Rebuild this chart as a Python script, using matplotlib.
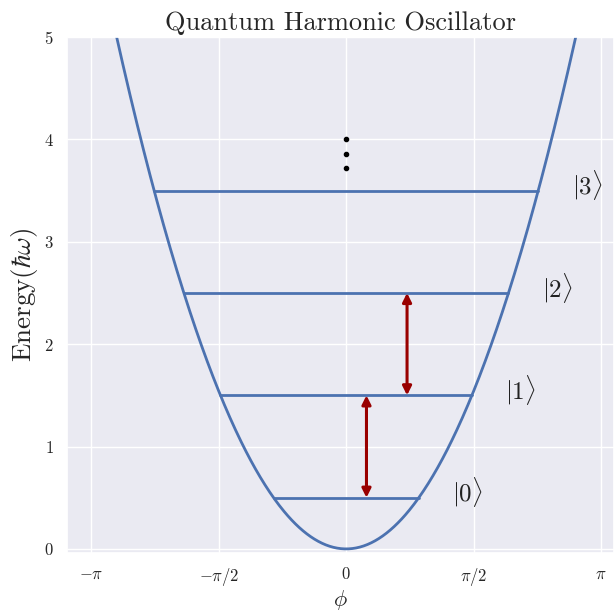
import numpy as np
import matplotlib
matplotlib.use("Agg")
import matplotlib.pyplot as plt
import seaborn as sns

# ---- data ----
k_curve = 0.625                      # E = k * phi^2
levels = [0.5, 1.5, 2.5, 3.5]
level_labels = [r"$|0\rangle$", r"$|1\rangle$", r"$|2\rangle$", r"$|3\rangle$"]
label_x = [1.49, 2.15, 2.60, 2.97]
label_y = [0.55, 1.55, 2.55, 3.55]
arrow_x = [0.25, 0.75]
arrow_from = [0.5, 1.5]
arrow_to = [1.5, 2.5]
dots_x = [0, 0, 0]
dots_y = [4.0, 3.86, 3.72]
xtick_vals = [-np.pi, -np.pi / 2, 0, np.pi / 2, np.pi]
xtick_labels = [r"$-\pi$", r"$-\pi/2$", r"$0$", r"$\pi/2$", r"$\pi$"]
ytick_vals = [0, 1, 2, 3, 4, 5]

sns.set_theme(style="darkgrid")
plt.rcParams["font.family"] = ["cmr10", "DejaVu Serif"]
plt.rcParams["mathtext.fontset"] = "cm"
plt.rcParams["axes.formatter.use_mathtext"] = True

fig = plt.figure(figsize=(6.14, 6.14), dpi=100)
ax = fig.add_axes([67 / 614, (614 - 553) / 614, (614 - 67) / 614, (553 - 37) / 614])

blue = "#4C72B0"
phi = np.linspace(-3.5, 3.5, 600)
ax.plot(phi, k_curve * phi ** 2, color=blue, lw=2)

for E in levels:
    xe = np.sqrt(E / k_curve)
    ax.plot([-xe, xe], [E, E], color=blue, lw=2)

for x, y, lab in zip(label_x, label_y, level_labels):
    ax.text(x, y, lab, fontsize=18, ha="center", va="center", color="#222222")

for x, a, b in zip(arrow_x, arrow_from, arrow_to):
    ax.annotate("", xy=(x, b), xytext=(x, a),
                arrowprops=dict(arrowstyle="<|-|>", color="#990000", lw=2.2,
                                mutation_scale=13, shrinkA=0, shrinkB=0))

ax.scatter(dots_x, dots_y, s=9, color="black", zorder=5)

ax.set_xlim(-3.44, 3.30)
ax.set_ylim(-0.04, 5)
ax.set_xticks(xtick_vals)
ax.set_xticklabels(xtick_labels, fontsize=12)
ax.set_yticks(ytick_vals)
ax.set_yticklabels([rf"${v}$" for v in ytick_vals], fontsize=12)
ax.set_xlabel(r"$\phi$", fontsize=16, labelpad=0)
ax.set_ylabel(r"Energy$(\hbar\omega)$", fontsize=19.5, labelpad=3)
ax.set_title("Quantum Harmonic Oscillator", fontsize=19, pad=5)

fig.savefig("out.png", dpi=100)
